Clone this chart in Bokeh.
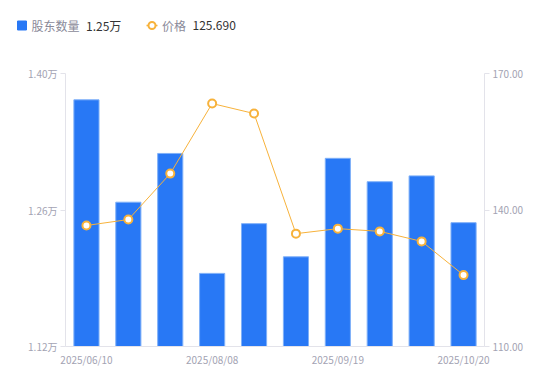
from bokeh.plotting import figure
from bokeh.layouts import column
from bokeh.models import Range1d, LinearAxis, FixedTicker, Label
from bokeh.core.properties import value
from bokeh.embed import file_html
from bokeh.resources import INLINE

# ---- data ----
dates = ["2025/06/10", "2025/06/30", "2025/07/18", "2025/08/08", "2025/08/20",
         "2025/08/29", "2025/09/19", "2025/09/30", "2025/10/10", "2025/10/20"]
holders = [1.373, 1.268, 1.318, 1.195, 1.246, 1.212, 1.313, 1.289, 1.295, 1.247]  # 万户
prices = [136.6, 137.9, 148.0, 163.4, 161.2, 134.8, 135.9, 135.3, 133.1, 125.69]  # 元
left_ticks = [1.12, 1.26, 1.40]
right_ticks = [110, 140, 170]
shown_ticks = [0, 3, 6, 9]

BLUE = "#2878f5"
ORANGE = "#f7b23b"
GRAY = "#a3a3b3"
AXIS = "#e3e3ea"
FONT = "Noto Sans CJK SC"

W = 545
LH = 48

# ---- legend strip ----
lg = figure(width=W, height=LH, x_range=Range1d(0, W), y_range=Range1d(LH, 0),
            output_backend="svg", toolbar_location=None,
            min_border=0, min_border_left=0, min_border_right=0,
            min_border_top=0, min_border_bottom=0, frame_align=False)
lg.axis.visible = False
lg.grid.visible = False
lg.outline_line_color = None
lg.rect(x=[21.5], y=[25], width=9, height=9, fill_color=BLUE, line_color=BLUE)
lg.line(x=[146, 157], y=[25, 25], line_color=ORANGE, line_width=1.5)
lg.scatter(x=[151.5], y=[25], size=7, marker="circle", fill_color="white",
           line_color=ORANGE, line_width=2)
lg.text(x=[31, 85.5, 161.5, 192], y=[25] * 4,
        text=["股东数量", "%.2f万" % holders[-1], "价格", "%.3f" % prices[-1]],
        text_color=["#8a8a99", "#333333", "#8a8a99", "#333333"],
        text_font=value(FONT), text_font_size="12px",
        text_baseline="middle", text_align="left")

# ---- main chart ----
H = 325
p = figure(width=W, height=H, x_range=Range1d(-0.5, 9.5),
           y_range=Range1d(left_ticks[0], left_ticks[-1]),
           output_backend="svg", toolbar_location=None,
           min_border_left=65, min_border_right=W - 484, min_border_top=25,
           min_border_bottom=27, frame_align=False)
p.extra_y_ranges = {"price": Range1d(right_ticks[0], right_ticks[-1])}
p.grid.visible = False
p.outline_line_color = None

xs = list(range(len(dates)))
p.vbar(x=xs, top=holders, bottom=left_ticks[0], width=0.6,
       fill_color=BLUE, line_color="#7fb0f8", line_width=1)
p.line(x=xs, y=prices, y_range_name="price", line_color=ORANGE, line_width=1)
p.scatter(x=xs, y=prices, y_range_name="price", size=8, marker="circle",
          fill_color="white", line_color=ORANGE, line_width=2)

def style(ax):
    ax.axis_line_color = AXIS
    ax.major_tick_line_color = AXIS
    ax.minor_tick_line_color = None
    ax.major_tick_in = 0
    ax.major_tick_out = 5
    ax.major_label_text_color = GRAY
    ax.major_label_text_font = FONT
    ax.major_label_text_font_size = "10px"
    ax.major_label_standoff = 3

# x axis
xa = p.xaxis[0]
style(xa)
xa.ticker = FixedTicker(ticks=shown_ticks)
xa.major_label_overrides = {i: dates[i] for i in shown_ticks}
xa.major_tick_out = 0
xa.major_label_standoff = 5

# left axis
ya = p.yaxis[0]
style(ya)
ya.ticker = FixedTicker(ticks=left_ticks)
ya.major_label_overrides = {t: "%.2f万" % t for t in left_ticks}

# right axis
ra = LinearAxis(y_range_name="price")
style(ra)
ra.ticker = FixedTicker(ticks=right_ticks)
ra.major_label_overrides = {t: "%.2f" % t for t in right_ticks}
p.add_layout(ra, "right")

p.add_layout(Label(x=59, y=H - 9, x_units="screen", y_units="screen", text="户",
                   text_color=GRAY, text_font=FONT, text_font_size="12px",
                   text_align="center", text_baseline="middle"))
p.add_layout(Label(x=490, y=H - 9, x_units="screen", y_units="screen", text="元",
                   text_color=GRAY, text_font=FONT, text_font_size="12px",
                   text_align="center", text_baseline="middle"))

layout = column(lg, p, spacing=0)
open("out.html", "w").write(file_html(layout, INLINE))
